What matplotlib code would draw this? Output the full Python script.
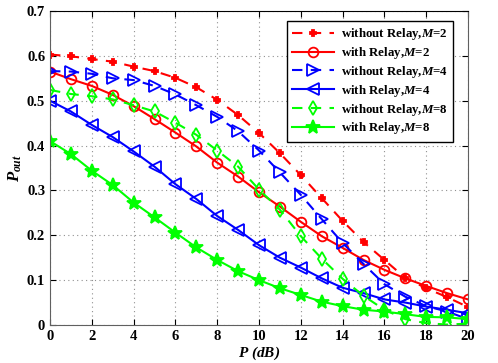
import matplotlib
matplotlib.use("Agg")
import matplotlib.pyplot as plt
import numpy as np

P_dB = list(range(0, 21))
wo_relay_M2 = [0.603, 0.599, 0.593, 0.587, 0.576, 0.566, 0.551, 0.530, 0.502, 0.468, 0.428,
               0.383, 0.334, 0.283, 0.232, 0.185, 0.145, 0.105, 0.082, 0.062, 0.040]
w_relay_M2 = [0.565, 0.548, 0.533, 0.513, 0.488, 0.459, 0.429, 0.398, 0.362, 0.331, 0.296,
              0.264, 0.230, 0.198, 0.172, 0.145, 0.123, 0.104, 0.087, 0.071, 0.057]
wo_relay_M4 = [0.566, 0.565, 0.560, 0.550, 0.546, 0.533, 0.514, 0.490, 0.464, 0.432, 0.389,
               0.340, 0.290, 0.236, 0.183, 0.136, 0.091, 0.063, 0.042, 0.030, 0.013]
w_relay_M4 = [0.500, 0.476, 0.446, 0.419, 0.387, 0.353, 0.314, 0.281, 0.243, 0.212, 0.178,
              0.150, 0.128, 0.104, 0.083, 0.071, 0.057, 0.050, 0.041, 0.034, 0.026]
wo_relay_M8 = [0.524, 0.515, 0.510, 0.503, 0.490, 0.476, 0.451, 0.424, 0.389, 0.353, 0.302,
               0.257, 0.198, 0.148, 0.103, 0.065, 0.034, 0.013, 0.004, 0.001, 0.003]
w_relay_M8 = [0.410, 0.381, 0.344, 0.312, 0.273, 0.240, 0.206, 0.173, 0.145, 0.120, 0.100,
              0.082, 0.067, 0.052, 0.042, 0.034, 0.030, 0.024, 0.018, 0.017, 0.013]

labels = ["without Relay,", "with Relay,", "without Relay,", "with Relay,", "without Relay,", "with Relay,"]
Ms = ["2", "2", "4", "4", "8", "8"]

plt.rcParams['font.family'] = ['Liberation Serif', 'DejaVu Serif']
plt.rcParams['mathtext.fontset'] = 'custom'
plt.rcParams['mathtext.it'] = 'Liberation Serif:italic:bold'
plt.rcParams['mathtext.rm'] = 'Liberation Serif:bold'
plt.rcParams['mathtext.bf'] = 'Liberation Serif:bold'

fig = plt.figure(figsize=(4.98, 3.63), dpi=100)
ax = fig.add_axes([0.1004, 0.1047, 0.8394, 0.865])

series = [wo_relay_M2, w_relay_M2, wo_relay_M4, w_relay_M4, wo_relay_M8, w_relay_M8]
colors = ['#ff0000', '#ff0000', '#0000ff', '#0000ff', '#00ff00', '#00ff00']
styles = [(0, (5, 4)), '-', (0, (5, 4)), '-', (0, (5, 4)), '-']
markers = ['P', 'o', '>', '<', 'd', '*']
msizes = [5, 7, 8, 8, 7, 10]
mfc = ['#ff0000', 'none', 'none', 'none', 'none', '#00ff00']

for i, s in enumerate(series):
    ax.plot(P_dB, s, color=colors[i], linestyle=styles[i], marker=markers[i],
            markersize=msizes[i], markerfacecolor=mfc[i], markeredgecolor=colors[i],
            markeredgewidth=1.3, linewidth=1.5,
            label=labels[i] + r"$M$=" + Ms[i])

ax.set_xlim(0, 20)
ax.set_ylim(0, 0.7)
ax.set_xticks(range(0, 21, 2))
ax.set_yticks(np.arange(0, 0.71, 0.1))
ax.set_yticklabels(["0", "0.1", "0.2", "0.3", "0.4", "0.5", "0.6", "0.7"])
ax.grid(True, linestyle=(0, (1, 3)), color='#909090', linewidth=0.8)
ax.tick_params(direction='in', top=True, right=True, length=4, labelsize=10.5)
for lab in ax.get_xticklabels() + ax.get_yticklabels():
    lab.set_fontweight('bold')
for sp in ['left', 'right', 'bottom']:
    ax.spines[sp].set_color('#606060')
ax.spines['top'].set_color('black')

ax.set_xlabel(r"$P$ (dB)", fontsize=11, fontweight='bold', fontstyle='italic', labelpad=1)
ax.set_ylabel(r"$P_{out}$", fontsize=12, labelpad=2)

leg = ax.legend(loc='upper right', prop={'weight': 'bold', 'size': 9.3},
                fancybox=False, framealpha=1, edgecolor='black', handlelength=3.3,
                handletextpad=0.5, borderpad=0.4, labelspacing=0.22, borderaxespad=0,
                bbox_to_anchor=(0.964, 0.968))
leg.get_frame().set_linewidth(1.0)

fig.savefig("out.png", dpi=100)
